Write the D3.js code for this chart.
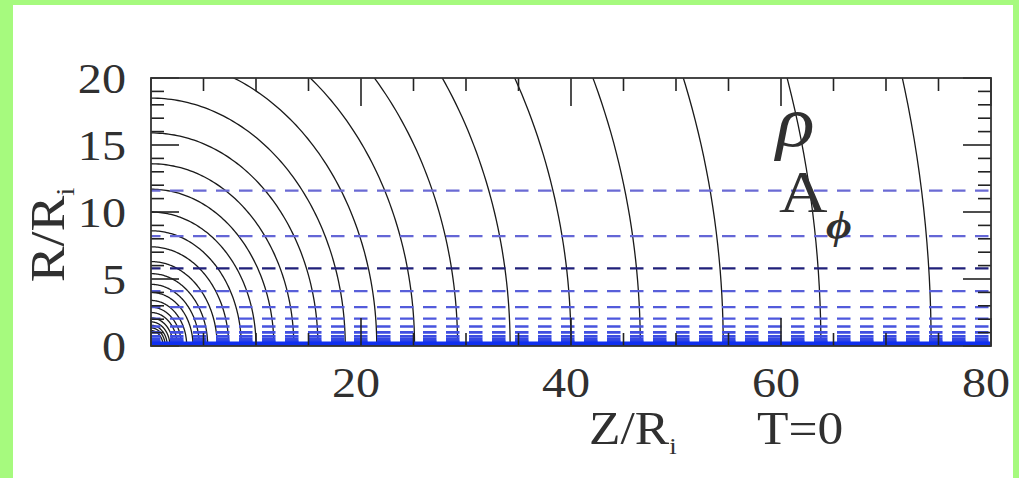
<!DOCTYPE html>
<html lang="en">
<head>
    <meta charset="UTF-8">
    <title>rho and A_phi contours, T=0</title>
    <script src="https://d3js.org/d3.v7.min.js"></script>
    <style>
        body { margin: 0; background: #ffffff; }
        svg text { font-family: "Liberation Serif", "DejaVu Serif", serif; fill: #303030; }
    </style>
</head>
<body>
<script>
    // density contours (circles around the origin, radius in R_i)
    const rhoRadii = [74.3, 63.8, 54.5, 46.6, 40.0, 34.2, 29.2, 25.1, 21.5, 18.5, 15.9, 13.6,
        11.7, 10.0, 8.6, 7.4, 6.3, 5.4, 4.6, 4.0, 3.4, 2.9, 2.5, 2.1, 1.8, 1.55, 1.35, 1.15];
    // A_phi contours (horizontal, R/R_i)
    const aphiLevels = [11.6, 8.2, 5.8, 4.1, 2.9, 2.05, 1.45, 1.02, 0.72, 0.51, 0.36, 0.26,
        0.18, 0.13, 0.09, 0.06, 0.04];
    const xTickLabels = [20, 40, 60, 80];
    const yTickLabels = [0, 5, 10, 15, 20];

    const W = 1019, H = 478;
    const pL = 151, pR = 991, pT = 78, pB = 346;

    const svg = d3.select("body").append("svg")
        .attr("width", W).attr("height", H);

    // green frame around the picture
    svg.append("rect").attr("width", W).attr("height", H).attr("fill", "#a6fa7e");
    svg.append("rect").attr("x", 13).attr("y", 5).attr("width", 1000).attr("height", H - 5)
        .attr("fill", "#ffffff");

    const x = d3.scaleLinear().domain([0, 80]).range([pL, pR]);
    const y = d3.scaleLinear().domain([0, 20]).range([pB, pT]);

    svg.append("clipPath").attr("id", "plot")
        .append("rect").attr("x", pL).attr("y", pT)
        .attr("width", pR - pL).attr("height", pB - pT);

    const g = svg.append("g").attr("clip-path", "url(#plot)");

    // rho contours
    const angles = d3.range(0, 91, 1).map(a => a * Math.PI / 180);
    const arc = d3.line().x(d => x(d[0])).y(d => y(d[1]));
    g.selectAll(".rho")
        .data(rhoRadii)
        .enter().append("path")
        .attr("class", "rho")
        .attr("d", r => arc(angles.map(t => [r * Math.cos(t), r * Math.sin(t)])))
        .attr("fill", "none")
        .attr("stroke", "#1a1a1a")
        .attr("stroke-width", 1.3);

    // ticks (inside the frame, all four sides)
    const ticks = svg.append("g").attr("stroke", "#222").attr("stroke-width", 1.6);
    const xt = x.ticks(16), yt = y.ticks(20);
    const len = (v, step) => (v % step === 0 ? 28 : 13);
    xt.forEach(v => {
        ticks.append("line").attr("x1", x(v)).attr("x2", x(v))
            .attr("y1", pT).attr("y2", pT + len(v, 20));
        ticks.append("line").attr("x1", x(v)).attr("x2", x(v))
            .attr("y1", pB).attr("y2", pB - len(v, 20));
    });
    yt.forEach(v => {
        ticks.append("line").attr("y1", y(v)).attr("y2", y(v))
            .attr("x1", pL).attr("x2", pL + len(v, 5));
        ticks.append("line").attr("y1", y(v)).attr("y2", y(v))
            .attr("x1", pR).attr("x2", pR - len(v, 5));
    });

    // A_phi contours, dashed
    const blue = d3.scaleLog().domain([0.04, 11.6]).range(["#0a2cf0", "#6a6ad4"]);
    g.selectAll(".aphi")
        .data(aphiLevels)
        .enter().append("line")
        .attr("class", "aphi")
        .attr("x1", pL).attr("x2", pR)
        .attr("y1", d => y(d)).attr("y2", d => y(d))
        .attr("stroke", d => d === 5.8 ? "#20207a" : blue(d))
        .attr("stroke-width", d => d < 1.5 ? 2.6 : 2.2)
        .attr("stroke-dasharray", "13.5,9.5")
        .attr("stroke-dashoffset", 4);

    g.append("line")
        .attr("x1", pL).attr("x2", pR)
        .attr("y1", y(0) - 1.5).attr("y2", y(0) - 1.5)
        .attr("stroke", "#0f2fef").attr("stroke-width", 6);

    // frame
    svg.append("rect").attr("x", pL).attr("y", pT)
        .attr("width", pR - pL).attr("height", pB - pT)
        .attr("fill", "none").attr("stroke", "#333").attr("stroke-width", 1.8);

    // text helper: stretched a little horizontally, like the plotting font
    const label = (tx, ty, size, rot) => svg.append("text")
        .attr("transform", `translate(${tx},${ty}) rotate(${rot || 0}) scale(1.12,1)`)
        .attr("font-size", size);

    // tick labels
    xTickLabels.forEach(d => label(x(d) - 5, 397, 43).attr("text-anchor", "middle").text(d));
    yTickLabels.forEach(d => label(126, y(d) + 15, 43).attr("text-anchor", "end").text(d));

    // axis titles
    const xt1 = label(589, 444, 46);
    xt1.append("tspan").text("Z/R");
    xt1.append("tspan").attr("font-size", 24).attr("dy", 10).text("i");
    label(757, 444, 46).text("T=0");

    const yt1 = label(64, 235, 48, -90).attr("text-anchor", "middle");
    yt1.append("tspan").text("R/R");
    yt1.append("tspan").attr("font-size", 26).attr("dy", 10).text("i");

    // legend labels
    label(776, 146, 72).attr("font-style", "italic").text("ρ");
    label(779, 212, 60).text("A");
    label(826, 238, 40).attr("font-style", "italic").attr("font-weight", "bold").text("ϕ");
</script>
</body>
</html>
